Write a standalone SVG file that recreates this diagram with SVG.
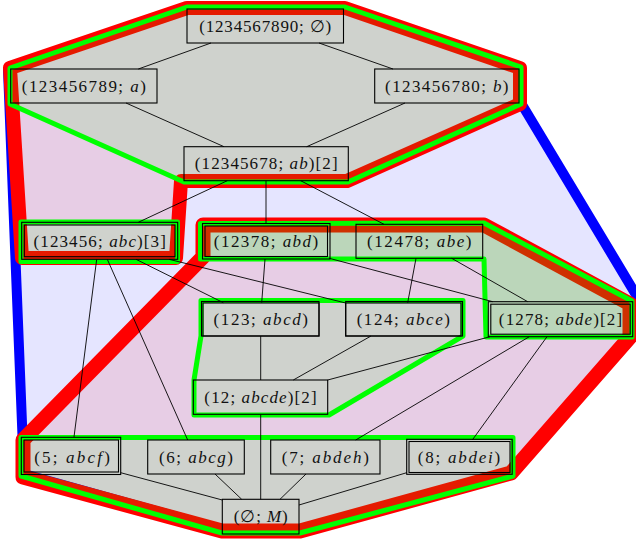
<svg xmlns="http://www.w3.org/2000/svg" width="636" height="546" viewBox="0 0 636 546">
<style>
.reg{stroke-linejoin:round}
.rb{fill:#0000ff;fill-opacity:0.1;stroke:#0000ff;stroke-width:10}
.rr{fill:#ff0000;fill-opacity:0.1;stroke:#ff0000;stroke-width:14}
.rg{fill:#00ff00;fill-opacity:0.1;stroke:#00ff00;stroke-width:5}
.rg2{fill:#00ff00;fill-opacity:0.19;stroke:#00ff00;stroke-width:5}
.e line{stroke:#000;stroke-width:0.9}
.box{fill:none;stroke:#000;stroke-width:1.1}
text{font-family:"Liberation Serif","DejaVu Serif",serif;font-size:17px;fill:#111;text-anchor:middle}
.i{font-style:italic}
</style>
<g id="regions" class="reg">
<polygon class="rb" points="8,70 186,8 346,8 518,68 518,98 650,318 512,472 300,530 224,530 24,474"/>
<polygon class="rr" points="10,68 187,8 345,8 520,68 520,104 347,181 181,181 176,258 22,258"/>
<polygon class="rr" style="stroke-width:15" points="203,225 484,225 630,304 630,337 511,473 300,531 222,531 23,477 23,440 203,257"/>
<polygon class="rg" points="10,68 187,7 345,7 521,67 521,104 348,182 184,182 10,104"/>
<polygon class="rg" points="21,222 177.5,222 177.5,261.5 21,261.5"/>
<polygon class="rg2" points="200.5,223.5 484,223 632,301 632,337 486,337 484,259 200.5,259"/>
<polygon class="rg" points="201,300.5 463,300.5 463,336 329,415 194,415 194,380 201,336"/>
<polygon class="rg" points="21,437.5 513,437.5 513,476 300,533 222,533 21,476"/>
</g>
<g id="connectors" class="e">
<line x1="211" y1="43" x2="138.3" y2="69"/>
<line x1="319" y1="43" x2="393" y2="69"/>
<line x1="126" y1="103" x2="224" y2="146.7"/>
<line x1="405" y1="103" x2="306.7" y2="146.7"/>
<line x1="227.3" y1="180.7" x2="138.3" y2="222.3"/>
<line x1="266" y1="180.7" x2="266" y2="223.5"/>
<line x1="300.7" y1="180.7" x2="384" y2="224.3"/>
<line x1="136" y1="259.3" x2="223.3" y2="302.7"/>
<line x1="169" y1="259.3" x2="345.7" y2="303"/>
<line x1="96.7" y1="259.3" x2="74" y2="437"/>
<line x1="107.3" y1="259.3" x2="187.7" y2="440"/>
<line x1="265" y1="259" x2="261.7" y2="302.7"/>
<line x1="329.3" y1="258.3" x2="492.7" y2="301.7"/>
<line x1="416" y1="258.3" x2="407.7" y2="302.7"/>
<line x1="451.7" y1="258.3" x2="527.7" y2="301.7"/>
<line x1="260.7" y1="336" x2="260.7" y2="380"/>
<line x1="371" y1="336" x2="293.3" y2="380"/>
<line x1="490" y1="336.7" x2="327.7" y2="380"/>
<line x1="529.3" y1="336.7" x2="355.7" y2="440"/>
<line x1="547" y1="336.7" x2="472.3" y2="440"/>
<line x1="260.7" y1="414.3" x2="260.7" y2="499.3"/>
<line x1="120.7" y1="472.7" x2="222.3" y2="500"/>
<line x1="215" y1="474" x2="241.7" y2="499.3"/>
<line x1="306" y1="474" x2="280" y2="499.3"/>
<line x1="406.7" y1="472.7" x2="299" y2="505"/>
</g>
<g id="n1"><rect class="box" x="187" y="9" width="156.5" height="34"/><text x="265.2" y="31.7" textLength="132">(1234567890; ∅)</text></g>
<g id="n2"><rect class="box" x="10.7" y="69" width="146.3" height="34"/><text x="83.8" y="91.7" textLength="124">(123456789; <tspan class="i">a</tspan>)</text></g>
<g id="n3"><rect class="box" x="374.7" y="69" width="144.3" height="34"/><text x="446.8" y="91.7" textLength="123.4">(123456780; <tspan class="i">b</tspan>)</text></g>
<g id="n4"><rect class="box" x="184" y="146.7" width="164.3" height="34"/><text x="266.2" y="169.4" textLength="142.7">(12345678; <tspan class="i">ab</tspan>)[2]</text></g>
<g id="n5"><rect class="box" x="21.7" y="222.3" width="156" height="37"/><rect class="box" x="24.3" y="225" width="150.7" height="31.7"/><text x="99.7" y="246.5" textLength="132.4">(123456; <tspan class="i">abc</tspan>)[3]</text></g>
<g id="n6"><rect class="box" x="202.5" y="223.5" width="127.5" height="35.5"/><rect class="box" x="205" y="226" width="122.5" height="30.5"/><text x="266" y="247" textLength="104.4">(12378; <tspan class="i">abd</tspan>)</text></g>
<g id="n7"><rect class="box" x="356" y="224.3" width="126.7" height="34"/><text x="419.3" y="247" textLength="104.4">(12478; <tspan class="i">abe</tspan>)</text></g>
<g id="n8"><rect class="box" x="201.5" y="301.5" width="117.5" height="34.5"/><rect class="box" x="203" y="303" width="116" height="33"/><text x="260.8" y="325" textLength="94.4">(123; <tspan class="i">abcd</tspan>)</text></g>
<g id="n9"><rect class="box" x="345.7" y="301.5" width="116.8" height="34.5"/><rect class="box" x="345.7" y="303" width="115.3" height="33"/><text x="403.3" y="325" textLength="93.3">(124; <tspan class="i">abce</tspan>)</text></g>
<g id="n10"><rect class="box" x="193.3" y="380" width="134.4" height="34.3"/><text x="260.5" y="402.9" textLength="112.3">(12; <tspan class="i">abcde</tspan>)[2]</text></g>
<g id="n11"><rect class="box" x="488.3" y="301.7" width="144.4" height="35"/><rect class="box" x="490.8" y="304.2" width="139.4" height="30"/><text x="560.5" y="324.9" textLength="123.3">(1278; <tspan class="i">abde</tspan>)[2]</text></g>
<g id="n12"><rect class="box" x="21.3" y="437.3" width="99.4" height="37.2"/><rect class="box" x="24" y="440" width="94.5" height="32"/><text x="72" y="462.7" textLength="75.7">(5; <tspan class="i">abcf</tspan>)</text></g>
<g id="n13"><rect class="box" x="147.7" y="440" width="96.6" height="34"/><text x="196" y="462.7" textLength="74">(6; <tspan class="i">abcg</tspan>)</text></g>
<g id="n14"><rect class="box" x="270.7" y="440" width="109.3" height="34"/><text x="325.3" y="462.7" textLength="87.3">(7; <tspan class="i">abdeh</tspan>)</text></g>
<g id="n15"><rect class="box" x="406.7" y="439.3" width="105.5" height="35"/><rect class="box" x="409" y="441.5" width="101" height="31"/><text x="459" y="462.7" textLength="82.3">(8; <tspan class="i">abdei</tspan>)</text></g>
<g id="n16"><rect class="box" x="222.3" y="499.3" width="76.7" height="34.7"/><text x="260.7" y="522.4" textLength="54">(∅; <tspan class="i">M</tspan>)</text></g>
</svg>
